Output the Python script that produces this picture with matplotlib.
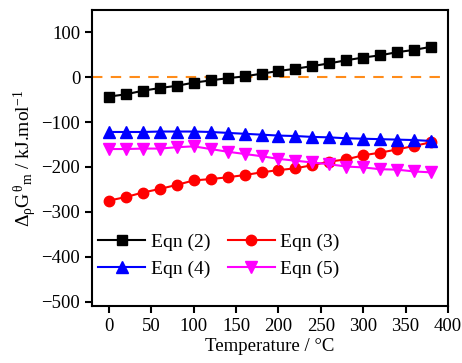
import numpy as np
import matplotlib.pyplot as plt

plt.rcParams['font.family'] = ['Liberation Serif', 'DejaVu Serif']
plt.rcParams['mathtext.fontset'] = 'custom'
plt.rcParams['mathtext.rm'] = 'Liberation Serif'
plt.rcParams['mathtext.it'] = 'Liberation Serif'

# temperature in degC
temp = np.arange(0, 400, 20)

eqn2 = [-43, -38, -30, -24, -19, -12, -7, -2, 2, 8, 14, 19, 25, 31, 38, 44, 49, 56, 61, 68]
eqn3 = [-275, -267, -257, -249, -240, -230, -227, -223, -218, -212,
        -207, -203, -196, -188, -183, -174, -168, -161, -153, -145]
eqn4 = [-122, -122, -122, -121, -121, -121, -122, -124, -126, -128,
        -130, -131, -133, -134, -136, -137, -138, -139, -140, -142]
eqn5 = [-160, -160, -159, -159, -156, -154, -160, -166, -171, -176,
        -182, -186, -190, -194, -199, -201, -205, -206, -210, -212]

fig = plt.figure(figsize=(4.62, 3.63), dpi=100)
ax = fig.add_axes([92/462, 1-306/363, (448-92)/462, (306-10)/363])

ax.axhline(0, color='#ff8c1a', ls=(0, (5, 4)), lw=1.5, zorder=1)

l2, = ax.plot(temp, eqn2, 's-', color='black', ms=7, lw=1.5, label='Eqn (2)')
l3, = ax.plot(temp, eqn3, 'o-', color='red', ms=7.5, lw=1.5, label='Eqn (3)')
l4, = ax.plot(temp, eqn4, '^-', color='blue', ms=8, lw=1.5, label='Eqn (4)')
l5, = ax.plot(temp, eqn5, 'v-', color='magenta', ms=8, lw=1.5, label='Eqn (5)')

ax.set_xlim(-20, 400)
ax.set_ylim(-510, 150)
ax.set_xticks(np.arange(0, 401, 50))
ax.set_yticks(np.arange(-500, 101, 100))
ax.tick_params(direction='out', length=5, width=1.5, labelsize=13.5, top=False, right=False)
for s in ax.spines.values():
    s.set_linewidth(1.5)

ax.set_xlabel('Temperature / \u00b0C', fontsize=13.5, labelpad=2)
ax.set_ylabel(r'$\Delta_{\rho}G^{\theta}{}_{m}$ / kJ.mol$^{-1}$', fontsize=14, labelpad=2)

ax.legend(handles=[l2, l4, l3, l5], ncol=2, loc='lower left', bbox_to_anchor=(-0.02, 0.05),
          frameon=False, fontsize=14, handlelength=2.4, handletextpad=0.3,
          columnspacing=0.9, labelspacing=0.45, borderpad=0.2)

fig.savefig('out.png', dpi=100)
